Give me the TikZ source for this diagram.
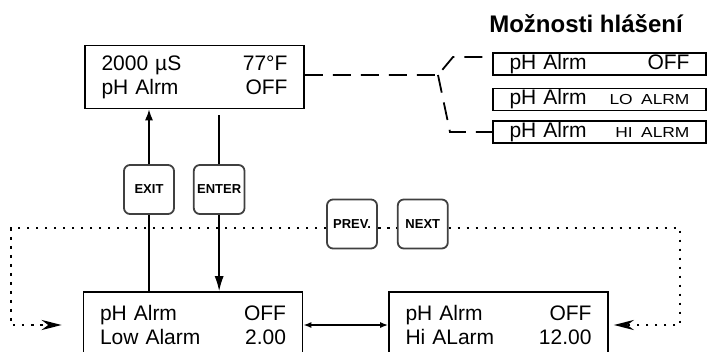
\documentclass[tikz,border=0pt]{standalone}
\usepackage{fontspec}
\setmainfont{Liberation Sans}
\usepackage{xcolor}
\usetikzlibrary{shapes,arrows.meta,positioning,calc}

\newcommand{\smalltag}[1]{{\fontsize{14.5}{14}\selectfont\scalebox{1.2}[1]{#1}}}

\begin{document}
\begin{tikzpicture}[x=1pt, y=-1pt, node distance=18pt]
    \tikzstyle{display} = [draw, line width=1.6pt, rectangle, minimum width=219pt, minimum height=66pt, text width=186pt, align=left, inner sep=0pt, font=\fontsize{21}{24}\selectfont]
    \tikzstyle{option} = [draw, line width=1.4pt, rectangle, minimum width=213pt, minimum height=22pt, text width=180pt, align=left, inner sep=0pt, font=\fontsize{21}{22}\selectfont]
    \tikzstyle{keybox} = [draw=black!75, fill=white, line width=1.8pt, rectangle, rounded corners=6pt, minimum width=50pt, minimum height=49pt, font=\fontsize{13}{13}\selectfont\bfseries]
    \tikzstyle{link} = [line width=1.5pt]
    \tikzstyle{dotline} = [line width=2.8pt, dash pattern=on 2.6pt off 6.4pt]
    \tikzstyle{dashline} = [line width=1.8pt, dash pattern=on 18pt off 10pt]

    \useasboundingbox (0,0) rectangle (708,351);
    \clip (0,0) rectangle (708,351);

    % Nodes
    \node [display, minimum height=63pt] (status) at (194.5,77) {2000 µS\hfill 77°F\\pH Alrm\hfill OFF};
    \node [display] (lowalarm) at (193,325) {pH Alrm\hfill OFF\\Low Alarm\hfill 2.00};
    \node [display] (hialarm) at (498.5,325) {pH Alrm\hfill OFF\\Hi ALarm\hfill 12.00};

    \node [anchor=base, font=\fontsize{24}{24}\selectfont\bfseries] (title) at (586,32) {Možnosti hlášení};
    \node [option] (opt1) at (599.5,64) {pH Alrm\hfill OFF};
    \node [option, below=12pt of opt1] (opt2) {pH Alrm\hfill \smalltag{LO ALRM}};
    \node [option, below=9pt of opt2] (opt3) {pH Alrm\hfill \smalltag{HI ALRM}};

    \node [keybox] (exit) at (149,189.5) {EXIT};
    \node [keybox, right=18pt of exit] (enter) {ENTER};
    \node [keybox] (prev) at (352,224) {PREV.};
    \node [keybox, right=19pt of prev] (next) {NEXT};

    \coordinate (fork) at (438,75);
    \coordinate (forkup) at (453,57);
    \coordinate (forkdown) at (450,132);
    \coordinate (leftturn) at (11,228);
    \coordinate (rightturn) at (680,228);

    % Paths
    \draw [link] (exit.south |- lowalarm.north) -- (exit.south);
    \draw [link, -{Latex[length=11pt,width=8pt]}] (exit.north) -- (exit.north |- status.south);
    \draw [link, shorten <=6pt] (enter.north |- status.south) -- (enter.north);
    \draw [link, -{Latex[length=15pt,width=9pt]}] (enter.south) -- (enter.south |- lowalarm.north);
    \draw [link, {Latex[length=8pt,width=6pt]}-{Latex[length=8pt,width=6pt]}] (lowalarm.east) -- (hialarm.west);

    \draw [dashline] (status.east |- fork) -- (fork) -- (forkup) -- (forkup -| opt1.west);
    \draw [dashline] (fork) -- (forkdown) -- (forkdown -| opt3.west);

    \draw [dotline, -{Stealth[length=20pt,width=10pt]}] (prev.west |- leftturn) -- (leftturn) |- ([xshift=-21pt]lowalarm.west);
    \draw [dotline] (prev.east |- leftturn) -- (next.west |- leftturn);
    \draw [dotline, -{Stealth[length=20pt,width=10pt]}] (next.east |- rightturn) -- (rightturn) |- ([xshift=5pt]hialarm.east);
\end{tikzpicture}
\end{document}
